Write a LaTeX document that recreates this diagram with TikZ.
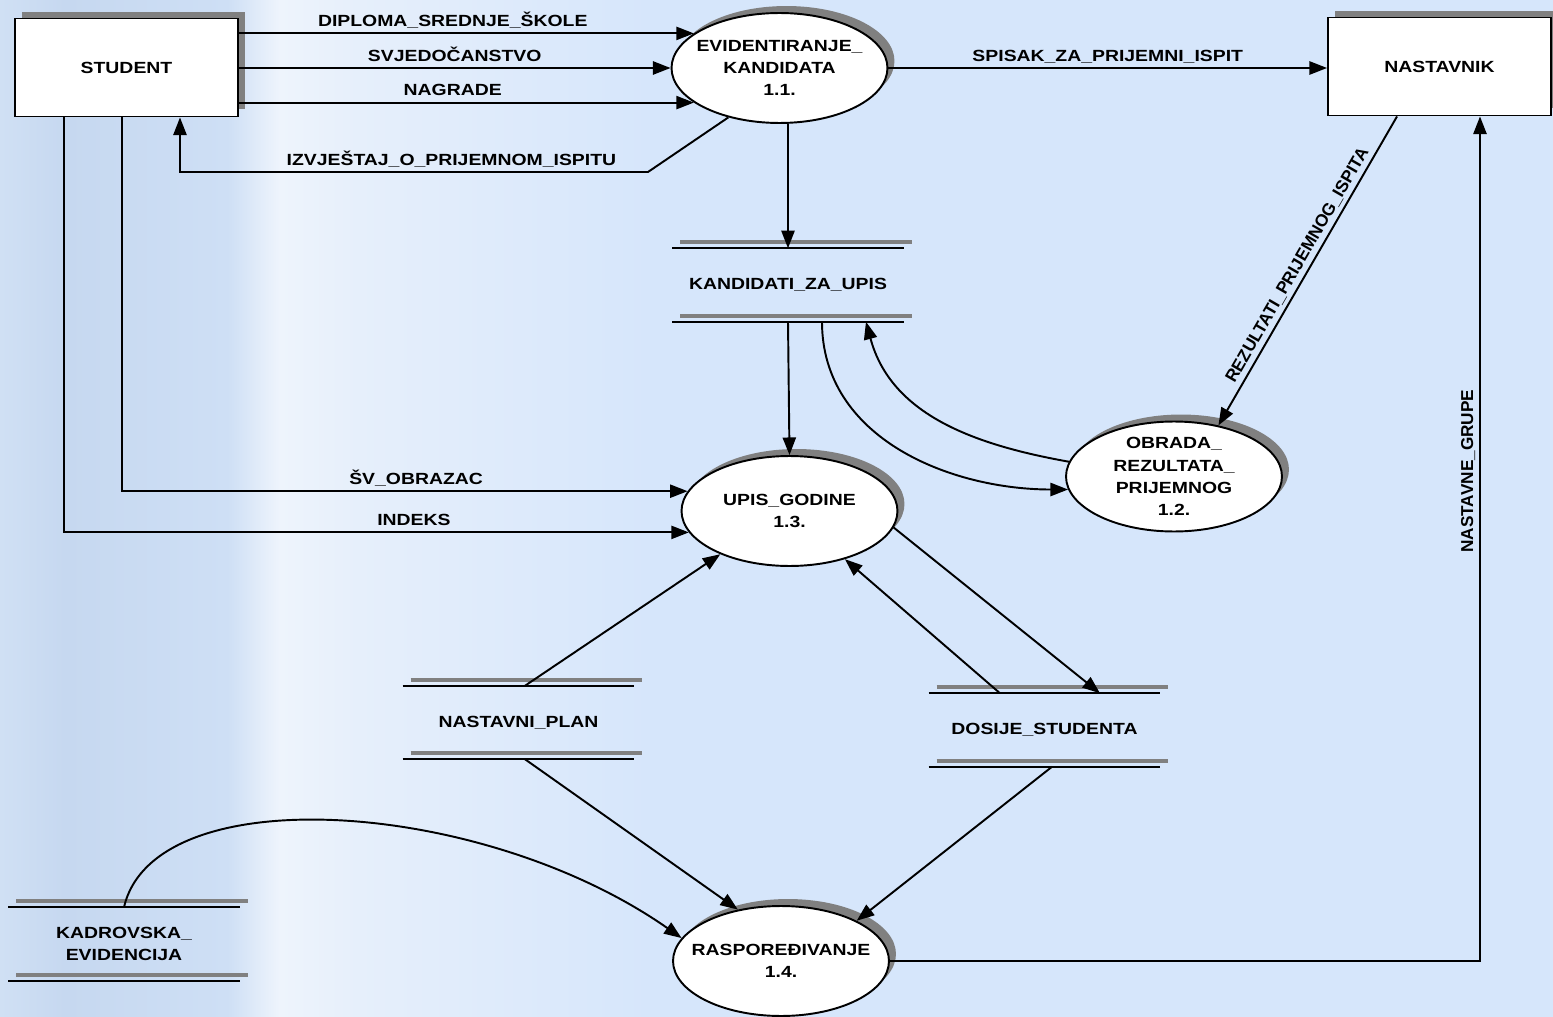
\documentclass[tikz,border=0pt]{standalone}
\usepackage{fontspec}
\setmainfont{Liberation Sans}[FakeStretch=1.2]
\newfontfamily\rotsans{Liberation Sans}
\usetikzlibrary{arrows.meta,shapes.geometric,shadows}

\definecolor{bgblue}{RGB}{214,230,251}
\definecolor{colA}{RGB}{208,224,244}
\definecolor{colB}{RGB}{198,216,240}
\definecolor{colC}{RGB}{206,223,245}
\definecolor{colD}{RGB}{238,244,252}
\definecolor{colE}{RGB}{230,239,251}
\pgfdeclarehorizontalshading{columnfade}{100bp}{color(0bp)=(colA); color(25bp)=(colA); color(30bp)=(colB); color(42.5bp)=(colC); color(46.5bp)=(colD); color(52.5bp)=(colE); color(75bp)=(bgblue); color(100bp)=(bgblue)}

\begin{document}
\begin{tikzpicture}[x=0.02cm, y=-0.02cm,
        every node/.style={font=\fontsize{9.2}{12.6}\selectfont\bfseries},
        entity/.style={draw, line width=1.1pt, fill=white, minimum width=4.46cm, minimum height=1.96cm, inner sep=0pt,
                drop shadow={shadow xshift=0.14cm, shadow yshift=0.14cm, fill=black!50, opacity=1}},
        process/.style={ellipse, draw, line width=1.1pt, fill=white, minimum width=4.32cm, minimum height=2.2cm,
                inner xsep=-15pt, inner ysep=-4pt, align=center,
                drop shadow={shadow xshift=0.14cm, shadow yshift=0.14cm, fill=black!50, opacity=1}},
        store/.style={minimum width=4.64cm, minimum height=1.47cm, inner sep=0pt, outer sep=0pt, align=center},
        storeshade/.style={line width=2.3pt, black!50},
        storeline/.style={line width=1.1pt},
        lbl/.style={inner sep=3.3pt, text depth=0pt},
        rotlbl/.style={lbl, font=\rotsans\fontsize{9.8}{12}\selectfont\bfseries},
        flow/.style={line width=1.1pt, -{Triangle[length=10pt,width=7.5pt]}}]

        \def \arrowtip {Triangle[length=10pt,width=7.5pt]}

        \useasboundingbox (0,0) rectangle (1553,1017);
        \fill[bgblue] (0,0) rectangle (1553,1017);
        \shade[shading=columnfade] (0,0) rectangle (650,1017);

        % vanjski entiteti
        \node[entity] (student) at (126.5,67.5) {STUDENT};
        \node[entity] (nast) at (1439.5,66.5) {NASTAVNIK};

        % procesi
        \node[process] (ev) at (779.5,68) {EVIDENTIRANJE\_\\KANDIDATA\\1.1.};
        \node[process] (ob) at (1174,476.5) {OBRADA\_\\REZULTATA\_\\PRIJEMNOG\\1.2.};
        \node[process] (upis) at (789.5,511) {UPIS\_GODINE\\1.3.};
        \node[process] (ras) at (781,961) {RASPOREĐIVANJE\\1.4.};

        % skladista
        \node[store] (kand) at (788,285) {KANDIDATI\_ZA\_UPIS};
        \node[store] (plan) at (518.5,722.5) {NASTAVNI\_PLAN};
        \node[store] (dos) at (1044.5,730) {DOSIJE\_STUDENTA};
        \node[store] (kad) at (124,944) {KADROVSKA\_\\EVIDENCIJA};

        \foreach \s in {kand,plan,dos,kad}{
            \foreach \a/\b in {north west/north east,south west/south east}{
                \draw[storeshade] ([xshift=0.16cm,yshift=0.12cm]\s.\a) -- ([xshift=0.16cm,yshift=0.12cm]\s.\b);
                \draw[storeline] (\s.\a) -- (\s.\b);
            }
        }

        \coordinate (izv) at (648,172);

        \draw[flow] (student.east |- ev.158) -- node[lbl, above, pos=0.47] {DIPLOMA\_SREDNJE\_ŠKOLE} (ev.158);
        \draw[flow] (student.east |- ev.west) -- node[lbl, above] {SVJEDOČANSTVO} (ev.west);
        \draw[flow] (student.east |- ev.202) -- node[lbl, above, pos=0.47] {NAGRADE} (ev.202);
        \draw[flow] (ev.224) -- (izv) -| node[lbl, above, pos=0.21] {IZVJEŠTAJ\_O\_PRIJEMNOM\_ISPITU} ([xshift=1.07cm]student.south);
        \draw[flow] (ev.east) -- node[lbl, above] {SPISAK\_ZA\_PRIJEMNI\_ISPIT} (nast.west |- ev.east);
        \draw[flow] (ev.south -| kand.north) -- (kand.north);

        \draw[flow] (kand.south) -- (upis.north);
        \draw[flow] ([xshift=0.68cm]kand.south) .. controls +(0,117) and +(-117,0) .. (ob.187);
        \draw[flow] (ob.172) .. controls +(-95,-17) and +(25,93) .. ([xshift=1.56cm]kand.south);

        \draw[{\arrowtip}-, line width=1.1pt] (ob.49) -- node[rotlbl, sloped, above] {REZULTATI\_PRIJEMNOG\_ISPITA} ([xshift=-0.85cm]nast.south);
        \draw[flow] (ras.east) -| node[rotlbl, sloped, above, pos=0.79] {NASTAVNE\_GRUPE} ([xshift=0.81cm]nast.south);

        \draw[flow] ([xshift=-0.09cm]student.south) |- node[lbl, above, pos=0.76] {ŠV\_OBRAZAC} (upis.169);
        \draw[flow] ([xshift=-1.25cm]student.south) |- node[lbl, above, pos=0.78] {INDEKS} (upis.192);

        \draw[flow] ([xshift=0.13cm]plan.north) -- (upis.212);
        \draw[flow] (upis.-9) -- ([xshift=1.11cm]dos.north);
        \draw[flow] ([xshift=-0.89cm]dos.north) -- (upis.-41);
        \draw[flow] ([xshift=0.13cm]plan.south) -- (ras.130);
        \draw[flow] ([xshift=0.15cm]dos.south) -- (ras.28);
        \draw[flow] (kad.north) .. controls +(30,-130) and +(-200,-140) .. (ras.167);

\end{tikzpicture}
\end{document}
